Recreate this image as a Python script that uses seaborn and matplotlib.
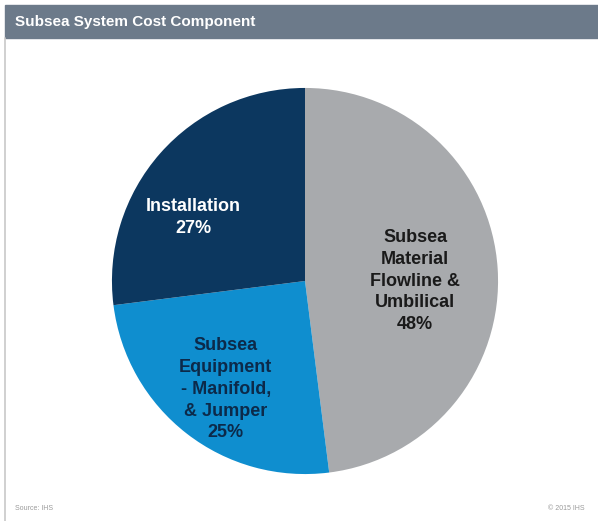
# Subsea system cost component pie chart

import numpy as np
import matplotlib.pyplot as plt
import matplotlib.patches as patches
import seaborn as sns

sns.set_theme(style="white")
plt.rcParams['font.family'] = ['Liberation Sans', 'DejaVu Sans']

# Data
categories = ["Subsea\nMaterial\nFlowline &\nUmbilical",
              "Subsea\nEquipment\n- Manifold,\n& Jumper",
              "Installation"]
shares = [48, 25, 27]
colors = ["#a8aaad", "#0f8ecf", "#0c375f"]
text_colors = ["#1a1a1a", "#0c2a4a", "#ffffff"]

fig = plt.figure(figsize=(5.98, 5.21), dpi=100)
W, H = 598, 521

# header bar and frame
fig.patches.append(patches.Rectangle((5 / W, 1 - 38 / H), 593 / W, 33 / H,
                                     transform=fig.transFigure,
                                     color="#6c7a8a", zorder=0))
fig.lines.append(plt.Line2D([5 / W, 5 / W], [0, 1 - 38 / H],
                            transform=fig.transFigure, color="#c8c8c8", lw=1.2))
fig.text(15 / W, 1 - 22 / H, "Subsea System Cost Component", color="white",
         fontsize=11, fontweight="bold", va="center", ha="left")
fig.text(15 / W, 1 - 508 / H, "Source: IHS", color="#9a9a9a", fontsize=5,
         va="center", ha="left")
fig.text(585 / W, 1 - 508 / H, "\u00a9 2015 IHS", color="#9a9a9a", fontsize=5,
         va="center", ha="right")

# pie axes: centre (305, 281) px, radius ~193 px
ax = fig.add_axes([105 / W, (H - 281 - 200) / H, 400 / W, 400 / H])
wedges, _ = ax.pie(shares, colors=colors, startangle=90, counterclock=False,
                   radius=1, wedgeprops=dict(linewidth=0))
ax.set_xlim(-1.036, 1.036)
ax.set_ylim(-1.036, 1.036)
ax.set_aspect("equal")
ax.axis("off")

# label positions (fraction of radius)
label_pos = [(0.57, 0.0), (-0.41, -0.56), (-0.58, 0.33)]
for cat, val, (x, y), tc in zip(categories, shares, label_pos, text_colors):
    ax.text(x, y, f"{cat}\n{val}%", ha="center", va="center", color=tc,
            fontsize=13, fontweight="bold", linespacing=1.38)

plt.savefig("out.png", dpi=100)
